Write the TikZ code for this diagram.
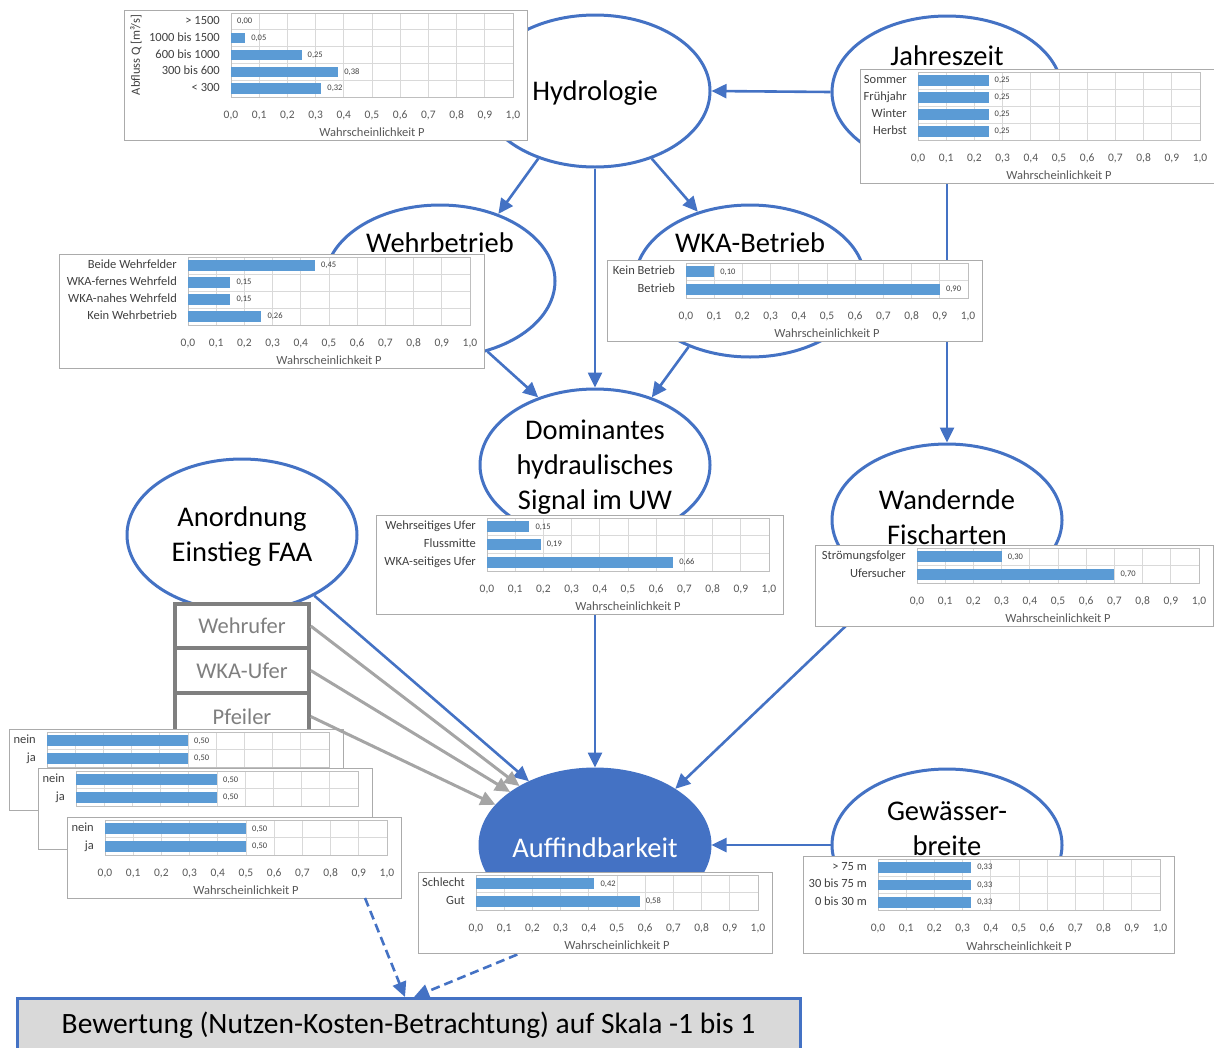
\documentclass[tikz,border=0pt]{standalone}
\usepackage{fontspec}
\setmainfont{Carlito}
\usetikzlibrary{arrows.meta,shapes.geometric}

\definecolor{accent}{HTML}{4472C4}
\definecolor{barfill}{HTML}{5B9BD5}
\definecolor{boxgray}{HTML}{7F7F7F}
\definecolor{arrowgray}{HTML}{A5A5A5}
\definecolor{gridgray}{HTML}{D9D9D9}
\definecolor{plotgray}{HTML}{BFBFBF}
\definecolor{framegray}{HTML}{ABABAB}
\definecolor{notefill}{HTML}{D9D9D9}
\definecolor{labdark}{HTML}{404040}
\definecolor{ticktext}{HTML}{595959}

% numbers are set in the text font
\pgfkeys{/pgf/number format/assume math mode=true}

\tikzset{
  var/.style={ellipse, draw=accent, line width=3pt, fill=white,
    minimum width=230pt, minimum height=152pt, inner sep=0pt},
  vartext/.style={font=\fontsize{28.5}{35}\selectfont, align=center, inner sep=0pt},
  flow/.style={draw=accent, line width=2.6pt, -{Triangle[length=15pt,width=14pt]}},
  dashflow/.style={flow, dash pattern=on 9pt off 5pt},
  greyflow/.style={draw=arrowgray, line width=3pt, -{Triangle[length=15pt,width=14pt]}},
  statebox/.style={rectangle, draw=boxgray, line width=3.5pt, fill=white,
    minimum width=134pt, text=boxgray, inner sep=0pt,
    font=\fontsize{22.5}{26}\selectfont},
  verdict/.style={rectangle, draw=accent, line width=3pt, fill=notefill,
    minimum width=783pt, minimum height=54pt, inner sep=0pt,
    font=\fontsize{29.5}{34}\selectfont},
  chartframe/.style={draw=framegray, line width=1pt},
  chartgrid/.style={draw=gridgray, line width=0.9pt},
  plotframe/.style={draw=plotgray, line width=1pt},
  catlabel/.style={anchor=east, inner sep=0pt, text=labdark,
    text height=9pt, text depth=3pt, font=\fontsize{12.5}{14}\selectfont},
  vallabel/.style={anchor=west, inner sep=0pt, text=labdark,
    text height=6pt, text depth=1.5pt, font=\fontsize{8.5}{10}\selectfont},
  ticklabel/.style={anchor=base, inner sep=0pt, text=ticktext,
    font=\fontsize{11.5}{13}\selectfont},
  axtitle/.style={inner sep=0pt, text=ticktext, font=\fontsize{12.5}{14}\selectfont},
}

\newif\ifpcaxis
\pcaxistrue

% Probability bar chart
% #1 frame left, #2 x of P=0, #3 plot top, #4 row height, #5 rows,
% #6 entries label/value, #7 name prefix
\newcommand\probchart[7]{%
  \pgfmathsetmacro\pcBottom{#3+#4*#5}%
  \pgfmathsetmacro\pcRight{#2+282}%
  \pgfmathtruncatemacro\pcInner{#5-1}%
  \fill[white] (#1,#3-3) rectangle (\pcRight+14,\pcBottom+43);
  \draw[chartframe] (#1,#3-3) rectangle (\pcRight+14,\pcBottom+43);
  \foreach \k in {1,...,9}{\draw[chartgrid] ({#2+28.2*\k},#3) -- ({#2+28.2*\k},\pcBottom);}
  \foreach \r in {1,...,\pcInner}{\draw[chartgrid] (#2,{#3+#4*\r}) -- (\pcRight,{#3+#4*\r});}
  \draw[plotframe] (#2,#3) rectangle (\pcRight,\pcBottom);
  \foreach \lab/\val [count=\i] in {#6}{%
    \pgfmathsetmacro\yc{#3+(\i-0.5)*#4}%
    \ifdim\val pt>0pt
      \fill[barfill] (#2,{\yc-0.31*#4}) rectangle ({#2+282*\val},{\yc+0.31*#4});
    \fi
    \node[catlabel] (#7-cat\i) at ({#2-11},\yc) {\lab};
    \node[vallabel] (#7-val\i) at ({#2+282*\val+6},\yc)
      {\pgfmathprintnumber[fixed,fixed zerofill,precision=2,use comma]{\val}};
  }
  \ifpcaxis
  \foreach \k [evaluate=\k as \tv using \k/10] in {0,...,10}{%
    \node[ticklabel] (#7-tick\k) at ({#2+28.2*\k},\pcBottom+21)
      {\pgfmathprintnumber[fixed,fixed zerofill,precision=1,use comma]{\tv}};}
  \node[axtitle] (#7-title) at ({#2+141},\pcBottom+35) {Wahrscheinlichkeit P};
  \fi
}

\begin{document}
\begin{tikzpicture}[x=1pt,y=-1pt]
\useasboundingbox (0,0) rectangle (1214,1047);
\clip (0,0) rectangle (1214,1047);

% variables of the network
\node[var] (hyd) at (595,91) {};
\node[var] (jz) at (947,92) {};
\node[var] (wb) at (440,281) {};
\node[var] (wka) at (750,281) {};
\node[var] (dom) at (595,465) {};
\node[var] (anord) at (242,535) {};
\node[var] (wan) at (947,520) {};
\node[var, fill=accent] (auff) at (595,845) {};
\node[var] (gew) at (947,845) {};

\node[vartext] (hydT) at (595,93) {Hydrologie};
\node[vartext] (jzT) at (947,56) {Jahreszeit};
\node[vartext] (wbT) at (440,243) {Wehrbetrieb};
\node[vartext] (wkaT) at (750,243) {WKA-Betrieb};
\node[vartext] (domT) at (595,467) {Dominantes\\hydraulisches\\Signal im UW};
\node[vartext] (anordT) at (242,537) {Anordnung\\Einstieg FAA};
\node[vartext] (wanT) at (947,517) {Wandernde\\Fischarten};
\node[vartext, text=white] (auffT) at (595,848) {Auffindbarkeit};
\node[vartext] (gewT) at (947,829) {Gewässer-\\breite};

% evaluation box
\node[verdict] (bew) at (408.5,1025) {Bewertung (Nutzen-Kosten-Betrachtung) auf Skala -1 bis 1};
\coordinate (bewL) at (405,997);
\coordinate (bewR) at (414,997);
\coordinate (cdash) at (365,898);

% dependencies
\draw[flow] (jz.west) -- (hyd.east);
\draw[flow] (hyd.230) -- (wb.49);
\draw[flow] (hyd.south) -- (dom.north);
\draw[flow] (hyd.310) -- (wka.127);
\draw[flow] (wb.304) -- (dom.130);
\draw[flow] (wka.227) -- (dom.50);
\draw[flow] (jz.south) -- (wan.north);
\draw[flow] (dom.south) -- (auff.north);
\draw[flow] (wan.228) -- (auff.35);
\draw[flow] (gew.west) -- (auff.east);
\draw[flow] (anord.320) -- (auff.136);
\draw[dashflow] (auff.south) -- (bewR);

% probability tables
\probchart{124}{231}{13}{16.8}{5}{> 1500/0.00, 1000 bis 1500/0.05, 600 bis 1000/0.25, 300 bis 600/0.38, < 300/0.32}{hydC}
\node[axtitle, text=labdark, rotate=90] (hydAx) at (136,55) {Abfluss Q [m³/s]};
\probchart{860}{918}{72}{17}{4}{Sommer/0.25, Frühjahr/0.25, Winter/0.25, Herbst/0.25}{jzC}
\probchart{59}{188}{257}{17}{4}{Beide Wehrfelder/0.45, WKA-fernes Wehrfeld/0.15, WKA-nahes Wehrfeld/0.15, Kein Wehrbetrieb/0.26}{wbC}
\probchart{607}{686}{263}{17.5}{2}{Kein Betrieb/0.10, Betrieb/0.90}{wkaC}
\probchart{376}{487}{518}{17.7}{3}{Wehrseitiges Ufer/0.15, Flussmitte/0.19, WKA-seitiges Ufer/0.66}{domC}
\probchart{815}{917}{548}{17.5}{2}{Strömungsfolger/0.30, Ufersucher/0.70}{wanC}
\probchart{418}{476}{875}{17.5}{2}{Schlecht/0.42, Gut/0.58}{auffC}
\probchart{803}{878}{859}{17.3}{3}{> 75 m/0.33, 30 bis 75 m/0.33, 0 bis 30 m/0.33}{gewC}

% entrance positions
\node[statebox, minimum height=44pt] (wehrufer) at (242,626) {Wehrufer};
\node[statebox, minimum height=45pt] (wkaufer) at (242,670.5) {WKA-Ufer};
\node[statebox, minimum height=47pt] (pfeiler) at (242,716.5) {Pfeiler};

% stacked tables, the lower ones cover the axes of the upper ones
\pcaxisfalse
\probchart{9}{47}{732}{17.5}{2}{nein/0.50, ja/0.50}{optA}
\probchart{38}{76}{771}{17.5}{2}{nein/0.50, ja/0.50}{optB}
\pcaxistrue
\probchart{67}{105}{820}{17.5}{2}{nein/0.50, ja/0.50}{optC}

\draw[dashflow] (cdash) -- (bewL);
\draw[greyflow] (wehrufer.east) -- (auff.142);
\draw[greyflow] (wkaufer.east) -- (auff.148);
\draw[greyflow] (pfeiler.east) -- (auff.158);
\end{tikzpicture}
\end{document}
